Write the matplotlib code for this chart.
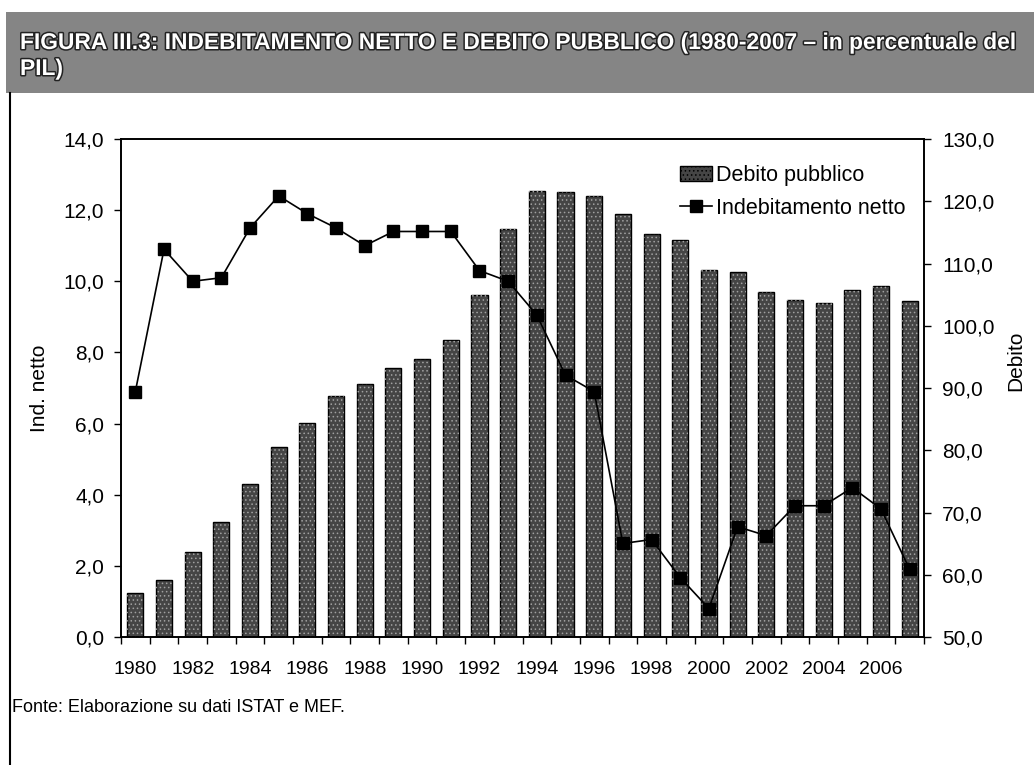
import matplotlib
matplotlib.use("Agg")
import matplotlib.pyplot as plt
import matplotlib.patheffects as pe
from matplotlib.patches import Rectangle
from matplotlib.lines import Line2D
from matplotlib.ticker import FuncFormatter, FixedLocator

years = list(range(1980, 2008))
debito = [57.1, 59.1, 63.7, 68.4, 74.5, 80.5, 84.4, 88.7, 90.6, 93.2,
          94.6, 97.7, 105.0, 115.6, 121.7, 121.5, 120.9, 118.0, 114.8, 113.7,
          109.0, 108.7, 105.5, 104.2, 103.6, 105.8, 106.4, 104.0]
indebitamento = [6.9, 10.9, 10.0, 10.1, 11.5, 12.4, 11.9, 11.5, 11.0, 11.4,
                 11.4, 11.4, 10.3, 10.0, 9.05, 7.36, 6.9, 2.63, 2.74, 1.67,
                 0.8, 3.1, 2.85, 3.69, 3.69, 4.2, 3.6, 1.9]
year_labels = [str(y) if (y - 1980) % 2 == 0 else "" for y in years]

title_lines = ["FIGURA III.3: INDEBITAMENTO NETTO E DEBITO PUBBLICO (1980-2007 \u2013 in percentuale del",
               "PIL)"]
source = "Fonte: Elaborazione su dati ISTAT e MEF."

plt.rcParams['font.family'] = ['Liberation Sans', 'DejaVu Sans']
plt.rcParams['hatch.linewidth'] = 0.6

W, H = 1034, 765
fig = plt.figure(figsize=(W / 100, H / 100), dpi=100)

# banner
fig.patches.append(Rectangle((6 / W, 1 - 93 / H), 1 - 6 / W, 81 / H, transform=fig.transFigure,
                             facecolor='#858585', edgecolor='none', zorder=0))
# frame left line
fig.add_artist(Line2D([10 / W, 10 / W], [0, 1 - 93 / H], color='black', lw=1.5, transform=fig.transFigure))
for line, base in zip(title_lines, [49, 75]):
    fig.text(20 / W, 1 - base / H, line, ha='left', va='baseline', fontsize=16.4, fontweight='bold',
             color='white',
             path_effects=[pe.withStroke(linewidth=2.2, foreground='#222222')])

ax = fig.add_axes([121 / W, 1 - 637 / H, 803 / W, 498 / H])
ax2 = ax.twinx()
ax.set_zorder(ax2.get_zorder() + 1)
ax.patch.set_visible(False)

x = list(range(len(years)))
ax2.bar(x, debito, width=0.56, color='#454545', edgecolor='black', linewidth=1.0, zorder=2)
ax2.bar(x, debito, width=0.56, facecolor='none', edgecolor='#a0a0a0', linewidth=0, hatch='....', zorder=3)
ax.plot(x, indebitamento, color='black', lw=1.2, marker='s', markersize=9, markerfacecolor='black',
        markeredgecolor='black', zorder=5)

ax.set_xlim(-0.5, len(years) - 0.5)
ax.set_ylim(0, 14)
ax2.set_ylim(50, 130)
ax.set_yticks([0, 2, 4, 6, 8, 10, 12, 14])
ax2.set_yticks([50, 60, 70, 80, 90, 100, 110, 120, 130])
fmt = FuncFormatter(lambda v, p: f"{v:.1f}".replace('.', ','))
ax.yaxis.set_major_formatter(fmt)
ax2.yaxis.set_major_formatter(fmt)

ax.set_xticks(x)
ax.set_xticklabels(year_labels)
ax.tick_params(axis='x', which='major', length=0, pad=17, labelsize=14)
ax.xaxis.set_minor_locator(FixedLocator([i - 0.5 for i in range(len(years) + 1)]))
ax.tick_params(axis='x', which='minor', length=5, width=1, direction='out')
ax.tick_params(axis='y', length=5, width=1, pad=7, labelsize=15)
ax2.tick_params(axis='y', length=5, width=1, pad=8, labelsize=15)

for a in (ax, ax2):
    for s in a.spines.values():
        s.set_linewidth(1.2)

ax.set_ylabel("Ind. netto", fontsize=15)
ax.yaxis.set_label_coords(-0.09, 0.5)
ax2.set_ylabel("Debito", fontsize=15)
ax2.yaxis.set_label_coords(1.103, 0.555)

handles = [Rectangle((0, 0), 1, 1, facecolor='#454545', edgecolor='black', hatch='....'),
           Line2D([], [], color='black', lw=1.2, marker='s', markersize=9)]
ax.legend(handles, ["Debito pubblico", "Indebitamento netto"], loc='upper left',
          bbox_to_anchor=(0.685, 0.965), frameon=False, fontsize=15.5, handlelength=1.5,
          handletextpad=0.2, labelspacing=0.55, borderaxespad=0)

fig.text(12 / W, 1 - 707 / H, source, ha='left', va='center', fontsize=13)

fig.savefig("out.png", dpi=100)
